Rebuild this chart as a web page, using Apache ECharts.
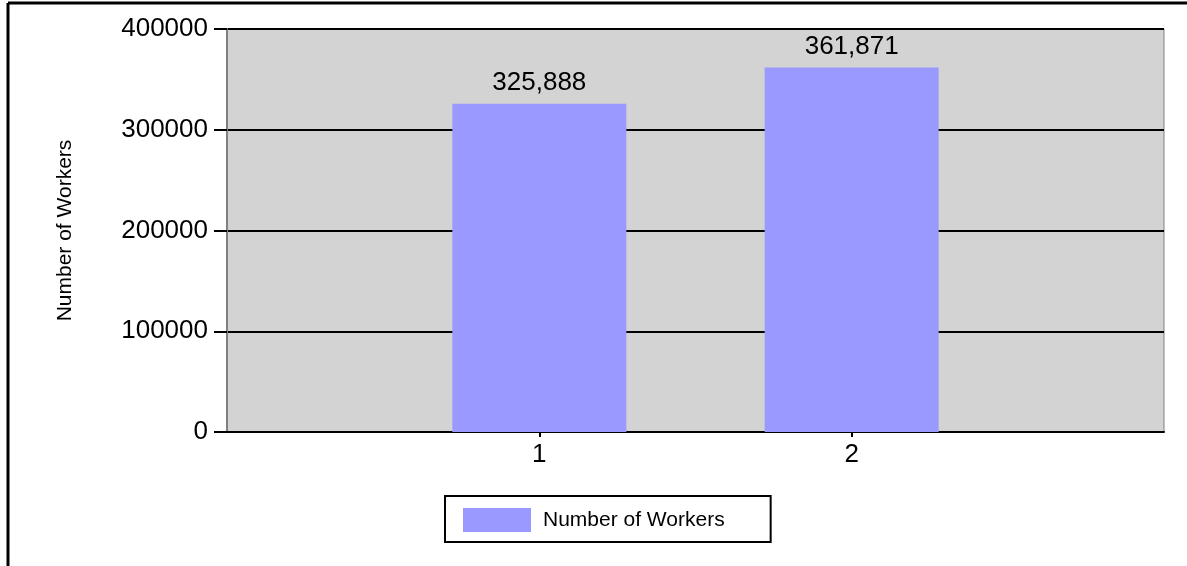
<!DOCTYPE html>
<html>
<head>
<meta charset="utf-8">
<script src="https://cdn.jsdelivr.net/npm/echarts@6/dist/echarts.min.js"></script>
<style>
  html, body { margin: 0; padding: 0; background: #ffffff; }
  #chart { width: 1187px; height: 566px; }
</style>
</head>
<body>
<div id="chart"></div>
<script>
// Category slots: empty padding slots on each side keep the bars at 1/3 and 2/3 of the width
const categories = ['', '1', '2', ''];
const workers = [null, 325888, 361871, null];
const yTicks = [0, 100000, 200000, 300000, 400000];
const seriesName = 'Number of Workers';

const fmt = v => v.toLocaleString('en-US');

const chart = echarts.init(document.getElementById('chart'), null, { renderer: 'canvas' });

chart.setOption({
  animation: false,
  textStyle: { fontFamily: 'Liberation Sans, Arial, sans-serif', color: '#000' },
  graphic: [
    { type: 'line', shape: { x1: 8, y1: 3, x2: 1187, y2: 3 }, style: { stroke: '#000', lineWidth: 3 } },
    { type: 'line', shape: { x1: 8, y1: 3, x2: 8, y2: 566 }, style: { stroke: '#000', lineWidth: 3 } }
  ],
  grid: {
    left: 227, top: 29, right: 23, bottom: 134,
    show: true,
    backgroundColor: '#d3d3d3',
    borderColor: '#808080',
    borderWidth: 1
  },
  legend: {
    data: [seriesName],
    left: 445, top: 496,
    orient: 'horizontal',
    icon: 'rect',
    itemWidth: 68, itemHeight: 24,
    padding: [12, 46, 10, 18],
    borderColor: '#000', borderWidth: 2,
    backgroundColor: '#fff',
    textStyle: { fontSize: 21, color: '#000', padding: [0, 0, 0, 7], fontFamily: 'Liberation Sans, Arial, sans-serif' }
  },
  xAxis: {
    type: 'category',
    data: categories,
    boundaryGap: false,
    axisLine: { show: true, lineStyle: { color: '#000', width: 2 } },
    axisTick: {
      show: true, length: 5,
      interval: (i, v) => v !== '',
      lineStyle: { color: '#000', width: 2 }
    },
    axisLabel: { fontSize: 26, color: '#000', margin: 10, interval: 0 },
    splitLine: { show: false }
  },
  yAxis: {
    type: 'value',
    min: yTicks[0],
    max: yTicks[yTicks.length - 1],
    interval: yTicks[1] - yTicks[0],
    name: 'Number of Workers',
    nameLocation: 'middle',
    nameGap: 151,
    nameTextStyle: { fontSize: 21, color: '#000' },
    axisLine: { show: true, lineStyle: { color: '#808080', width: 2 } },
    axisTick: { show: true, length: 13, lineStyle: { color: '#000', width: 2 } },
    axisLabel: { fontSize: 26, color: '#000', margin: 19, formatter: v => String(v) },
    splitLine: { show: true, lineStyle: { color: '#000', width: 2 } }
  },
  series: [{
    name: seriesName,
    type: 'bar',
    data: workers,
    barWidth: 174,
    itemStyle: { color: '#9999ff' },
    label: {
      show: true,
      position: 'top',
      distance: 8,
      fontSize: 26,
      color: '#000',
      formatter: p => fmt(p.value)
    }
  }]
});
</script>
</body>
</html>
